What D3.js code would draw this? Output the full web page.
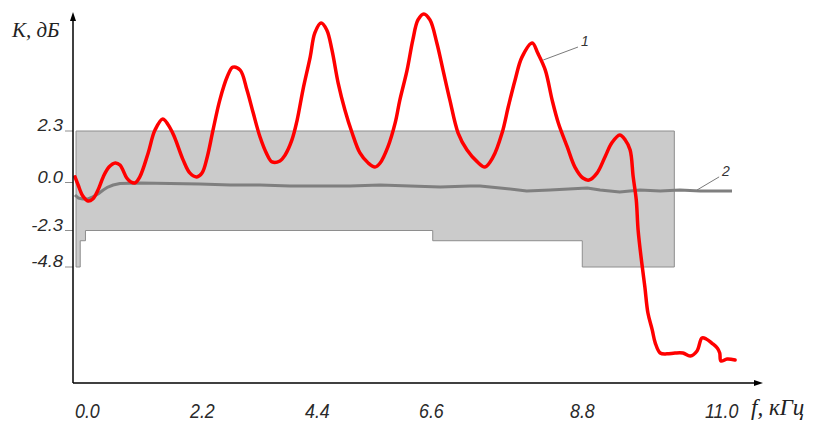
<!DOCTYPE html>
<html>
<head>
<meta charset="utf-8">
<script src="https://cdn.jsdelivr.net/npm/d3@7"></script>
<style>
  html, body { margin: 0; padding: 0; background: #fff; }
  svg { display: block; }
</style>
</head>
<body>
<div id="chart"></div>
<script>
// Frequency response K(f) against the tolerance mask
const freqTicks = [0, 2.2, 4.4, 6.6, 8.8, 11.0];
const gainTicks = [-4.8, -2.3, 0, 2.3];

// curve 1 (red)
const redF = [0.00, 0.06, 0.15, 0.25, 0.34, 0.44, 0.54, 0.65, 0.77, 0.86, 0.99, 1.07, 1.15, 1.24, 1.40,
  1.53, 1.68, 1.82, 1.91, 2.07, 2.20, 2.33, 2.43, 2.53, 2.64, 2.77, 2.91, 3.02, 3.16, 3.29,
  3.41, 3.54, 3.67, 3.77, 3.92, 4.02, 4.15, 4.25, 4.36, 4.50, 4.59, 4.71, 4.82, 4.92, 5.04,
  5.17, 5.31, 5.46, 5.62, 5.75, 5.85, 6.00, 6.14, 6.23, 6.37, 6.48, 6.58, 6.67, 6.76, 6.86,
  6.95, 7.05, 7.17, 7.30, 7.45, 7.56, 7.68, 7.81, 7.90, 8.00, 8.10, 8.25, 8.33, 8.44, 8.54,
  8.63, 8.76, 8.88, 9.01, 9.11, 9.24, 9.37, 9.48, 9.61, 9.70, 9.78, 9.83, 9.88, 9.91, 9.97,
  10.02, 10.07, 10.14, 10.19, 10.27, 10.38, 10.51, 10.64, 10.76, 10.87, 10.95, 11.02, 11.11,
  11.20, 11.24, 11.26, 11.36, 11.49];
const redK = [0.25, -0.12, -0.65, -0.89, -0.79, -0.36, 0.25, 0.69, 0.87, 0.78, 0.20, 0.02, -0.02, 0.25, 1.32,
  2.34, 2.84, 2.43, 1.99, 1.00, 0.42, 0.25, 0.42, 1.14, 2.34, 3.68, 4.71, 5.15, 5.02, 4.13,
  3.10, 2.03, 1.27, 0.92, 0.96, 1.23, 1.90, 2.79, 4.13, 5.60, 6.68, 7.12, 6.81, 5.92, 4.44,
  3.24, 2.21, 1.32, 0.87, 0.69, 0.87, 1.59, 2.66, 3.68, 5.02, 6.36, 7.26, 7.53, 7.26, 6.23,
  5.02, 3.68, 2.21, 1.45, 0.92, 0.69, 1.14, 2.21, 3.37, 4.58, 5.60, 6.23, 5.78, 5.02, 3.68,
  2.66, 1.59, 0.69, 0.20, 0.11, 0.42, 1.14, 1.76, 2.12, 1.90, 1.45, 0.25, -0.84, -2.28, -4.53,
  -6.17, -7.95, -9.11, -10.01, -10.69, -10.75, -10.69, -10.69, -10.90, -10.55, -9.66, -9.73, -10.01,
  -10.35, -10.69, -11.24, -11.10, -11.17];

// curve 2 (grey)
const grayF = [0.00, 0.06, 0.15, 0.25, 0.34, 0.44, 0.54, 0.63, 0.73, 0.86, 1.24, 1.82, 2.39, 2.97, 3.54,
  4.11, 4.69, 5.27, 5.85, 6.43, 6.91, 7.34, 7.49, 7.78, 8.17, 8.51, 9.08, 9.29, 9.61, 9.94,
  10.27, 10.59, 10.92, 11.16, 11.44];
const grayK = [-0.60, -0.74, -0.79, -0.79, -0.69, -0.55, -0.36, -0.22, -0.12, -0.05, -0.02, -0.05, -0.07, -0.12, -0.12,
  -0.17, -0.17, -0.17, -0.12, -0.17, -0.22, -0.17, -0.17, -0.26, -0.41, -0.36, -0.26, -0.36, -0.46, -0.36,
  -0.41, -0.36, -0.41, -0.41, -0.41];

// tolerance mask outline
const maskF = [0.02, 10.5, 10.5, 9.0, 9.0, 6.8, 6.8, 0.2, 0.2, 0.1, 0.1, 0.02];
const maskK = [2.3, 2.3, -4.8, -4.8, -3.0, -3.0, -2.3, -2.3, -3.0, -3.0, -4.8, -4.8];

// leader lines: [f, K] start, [f, K] end
const leader1 = [[8.41, 5.47], [8.93, 6.05]];
const leader2 = [[10.87, -0.36], [11.23, 0.25]];

const W = 819, H = 423;
const axisX = 73, axisY = 383;

const svg = d3.select('#chart').append('svg')
  .attr('width', W)
  .attr('height', H);

const x = d3.scaleLinear().domain(freqTicks).range([75, 190, 305, 419, 570, 705]);
const y = d3.scaleLinear().domain(gainTicks).range([267, 230.5, 182.5, 131]);

// Mask
const maskPts = maskF.map((f, i) => [x(f), y(maskK[i])]);
svg.append('path')
  .attr('d', 'M' + maskPts.join('L') + 'Z')
  .attr('fill', '#cbcbcb')
  .attr('stroke', '#8e8e8e')
  .attr('stroke-width', 1);

// Y ticks and labels
const yt = svg.append('g');
yt.selectAll('line').data(gainTicks).join('line')
  .attr('x1', 65).attr('x2', axisX)
  .attr('y1', d => y(d)).attr('y2', d => y(d))
  .attr('stroke', '#8e8e8e').attr('stroke-width', 1);
yt.selectAll('text').data(gainTicks).join('text')
  .attr('transform', d => `translate(63,${y(d)}) scale(1.15,1)`)
  .attr('text-anchor', 'end')
  .attr('font-family', '"Liberation Sans", Arial, sans-serif')
  .attr('font-style', 'italic')
  .attr('font-size', 16)
  .attr('fill', '#2a2a2a')
  .text(d => d.toFixed(1));

// X tick labels
svg.append('g').selectAll('text').data(freqTicks).join('text')
  .attr('transform', d => `translate(${x(d)},418) scale(0.85,1)`)
  .attr('text-anchor', 'start')
  .attr('font-family', '"Liberation Sans", Arial, sans-serif')
  .attr('font-style', 'italic')
  .attr('font-size', 21)
  .attr('fill', '#2a2a2a')
  .text(d => d.toFixed(1));

// Curves
const line = d3.line().x(d => x(d[0])).y(d => y(d[1]));

svg.append('path')
  .datum(grayF.map((f, i) => [f, grayK[i]]))
  .attr('d', line.curve(d3.curveLinear))
  .attr('fill', 'none')
  .attr('stroke', '#7f7f7f')
  .attr('stroke-width', 3)
  .attr('stroke-linejoin', 'round');

svg.append('path')
  .datum(redF.map((f, i) => [f, redK[i]]))
  .attr('d', line.curve(d3.curveCatmullRom.alpha(0.5)))
  .attr('fill', 'none')
  .attr('stroke', '#ff0000')
  .attr('stroke-width', 3.5)
  .attr('stroke-linejoin', 'round')
  .attr('stroke-linecap', 'round');

// Leaders and curve numbers
[[leader1, '1'], [leader2, '2']].forEach(([l, t]) => {
  svg.append('line')
    .attr('x1', x(l[0][0])).attr('y1', y(l[0][1]))
    .attr('x2', x(l[1][0])).attr('y2', y(l[1][1]))
    .attr('stroke', '#7a7a7a').attr('stroke-width', 1);
  svg.append('text')
    .attr('x', x(l[1][0]) + 3).attr('y', y(l[1][1]) - 1)
    .attr('font-family', '"Liberation Sans", Arial, sans-serif')
    .attr('font-style', 'italic')
    .attr('font-size', 14)
    .attr('fill', '#333')
    .text(t);
});

// Axes with arrows
svg.append('line')
  .attr('x1', axisX).attr('y1', 18).attr('x2', axisX).attr('y2', axisY)
  .attr('stroke', '#000').attr('stroke-width', 1.5);
svg.append('line')
  .attr('x1', axisX).attr('y1', axisY).attr('x2', 757).attr('y2', axisY)
  .attr('stroke', '#000').attr('stroke-width', 1.5);
svg.append('path')
  .attr('d', `M${axisX},12L${axisX - 3},21L${axisX + 3},21Z`)
  .attr('fill', '#000');
svg.append('path')
  .attr('d', `M763,${axisY}L754,${axisY - 3}L754,${axisY + 3}Z`)
  .attr('fill', '#000');

// Axis titles
svg.append('text')
  .attr('x', 12).attr('y', 37)
  .attr('font-family', '"Liberation Serif", "Times New Roman", serif')
  .attr('font-style', 'italic')
  .attr('font-size', 21)
  .attr('fill', '#222')
  .text('К, дБ');
svg.append('text')
  .attr('x', 751).attr('y', 415)
  .attr('font-family', '"Liberation Serif", "Times New Roman", serif')
  .attr('font-style', 'italic')
  .attr('font-size', 23)
  .attr('fill', '#222')
  .text('f, кГц');
</script>
</body>
</html>
